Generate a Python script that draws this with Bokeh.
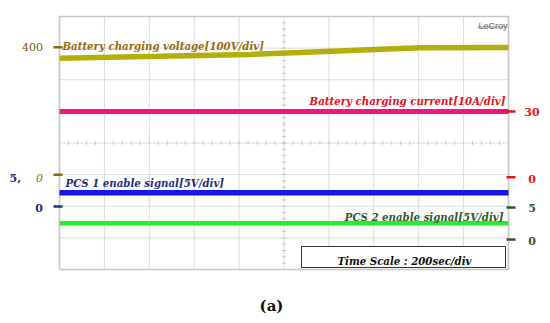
from bokeh.plotting import figure
from bokeh.models import Range1d
from bokeh.core.properties import value
from bokeh.embed import file_html
from bokeh.resources import INLINE

# ---------------- data ----------------
# time axis: 200 sec/div, 10 divisions
t_volt = [0, 450, 850, 1075, 1405, 1610, 2000]          # s
v_batt = [365, 371, 377, 383, 393, 398, 399]             # V  (100 V/div)
t_flat = [0, 2000]                                      # s
i_batt = [30, 30]                                       # A  (10 A/div)
pcs1_sig = [2.15, 2.15]                                 # V  (5 V/div)
pcs2_sig = [2.55, 2.55]                                 # V  (5 V/div)

# channel reference marks (screen divisions) and their labels
left_mark_div = [7.03, 3.00, 1.99]
left_mark_text = ["400", "0", "0"]
right_mark_div = [5.00, 2.92, 1.96, 0.95]
right_mark_text = ["30", "0", "5", "0"]

# ---------------- scope settings ----------------
SEC_PER_DIV = 200.0
V_PER_DIV, V_OFF = 100.0, 3.03
A_PER_DIV, A_OFF = 10.0, 2.0
S_PER_DIV, S1_OFF, S2_OFF = 5.0, 2.0, 0.95
NX, NY = 10, 8

# ---------------- geometry ----------------
W, H = 548, 321
PXX, PXY = 44.9, 31.625           # pixels per division
FRAME_L, FRAME_BOT = 59, 269      # frame left / bottom in canvas pixels
x0 = -FRAME_L / PXX
x1 = x0 + W / PXX
y0 = -(H - FRAME_BOT) / PXY
y1 = y0 + H / PXY

p = figure(width=W, height=H, x_range=Range1d(x0, x1), y_range=Range1d(y0, y1),
           x_axis_type=None, y_axis_type=None, toolbar_location=None,
           output_backend="svg", min_border=0)
p.outline_line_color = None
p.grid.visible = False
p.background_fill_color = "white"

# grid
gx = list(range(NX + 1))
gy = list(range(NY + 1))
p.segment(x0=gx, y0=[0] * len(gx), x1=gx, y1=[NY] * len(gx), line_color="#dcdcdc", line_width=1)
p.segment(x0=[0] * len(gy), y0=gy, x1=[NX] * len(gy), y1=gy, line_color="#dcdcdc", line_width=1)
p.line([0, NX], [6.5, 6.5], line_color="#d6d6d6", line_width=1, line_dash="1 5")
# centre cross minor ticks
mx = [i * 0.2 for i in range(NX * 5 + 1)]
my = [i * 0.2 for i in range(NY * 5 + 1)]
p.segment(x0=mx, y0=[NY / 2 - 0.06] * len(mx), x1=mx, y1=[NY / 2 + 0.06] * len(mx),
          line_color="#c4c4c4", line_width=1)
p.segment(x0=[NX / 2 - 0.045] * len(my), y0=my, x1=[NX / 2 + 0.045] * len(my), y1=my,
          line_color="#c4c4c4", line_width=1)
# frame
p.line([0, NX, NX, 0, 0], [0, 0, NY, NY, 0], line_color="#c6c6c6", line_width=1.6)

# traces
tx = lambda ts: [t / SEC_PER_DIV for t in ts]
p.line(tx(t_volt), [v / V_PER_DIV + V_OFF for v in v_batt], line_color="#B4AE0A", line_width=5.5)
p.line(tx(t_flat), [a / A_PER_DIV + A_OFF for a in i_batt], line_color="#F2157F", line_width=5)
p.line(tx(t_flat), [s / S_PER_DIV + S1_OFF for s in pcs1_sig], line_color="#1616E8", line_width=5.5)
p.line(tx(t_flat), [s / S_PER_DIV + S2_OFF for s in pcs2_sig], line_color="#2EE82E", line_width=4.5)

SERIF = value("DejaVu Serif")
BROWN, NAVY, RED, GREEN = "#8E6610", "#1C2F78", "#E3121B", "#2D5A2D"

def txt(x, y, s, color, size, style="bold italic", align="left", base="alphabetic", font=SERIF):
    p.text(x=[x], y=[y], text=[s], text_color=color, text_font_size=f"{size}px",
           text_font_style=style, text_align=align, text_baseline=base, text_font=font)

def px_x(xp):
    return (xp - FRAME_L) / PXX

def px_y(yp):
    return (FRAME_BOT - yp) / PXY

# channel labels
LBL = 10.2
txt(px_x(62), px_y(45), "Battery charging voltage[100V/div]", "#9A6B0C", LBL)
txt(px_x(505), px_y(100.5), "Battery charging current[10A/div]", RED, LBL, align="right")
txt(px_x(65), px_y(182), "PCS 1 enable signal[5V/div]", NAVY, LBL)
txt(px_x(503), px_y(216), "PCS 2 enable signal[5V/div]", GREEN, LBL, align="right")

# time scale box
p.quad(left=[px_x(301)], right=[px_x(505)], top=[px_y(246)], bottom=[px_y(267)],
       fill_color="white", line_color="#333333", line_width=1)
txt(px_x(404), px_y(260.5), "Time Scale : 200sec/div", "#111111", LBL, align="center")

# LeCroy logo
txt(px_x(507), px_y(25), "LeCroy", "#666666", 9, style="normal", align="right",
    font=value("Liberation Sans"))
p.line([px_x(477), px_x(507)], [px_y(26.5), px_y(26.5)], line_color="#777777", line_width=0.8)

# reference marks
lcol = [BROWN, BROWN, NAVY]
p.segment(x0=[px_x(53)] * 3, y0=left_mark_div, x1=[px_x(62)] * 3, y1=left_mark_div,
          line_color=lcol, line_width=2.5)
rcol = [RED, RED, GREEN, GREEN]
p.segment(x0=[px_x(506)] * 4, y0=right_mark_div, x1=[px_x(515)] * 4, y1=right_mark_div,
          line_color=rcol, line_width=2.5)

left_dy = [0.0, -0.12, -0.06]
left_style = ["normal", "italic", "bold"]
for d, s, c, dy, st in zip(left_mark_div, left_mark_text, lcol, left_dy, left_style):
    txt(px_x(42.5), d + dy, s, c if s != "400" else "#7B5A12", 11, style=st, align="right", base="middle")
txt(px_x(9), left_mark_div[1] - 0.12, "5,", NAVY, 11, style="bold", base="middle")

right_dy = [-0.03, -0.05, -0.03, -0.06]
for d, s, c, dy in zip(right_mark_div, right_mark_text, rcol, right_dy):
    txt(px_x(531.5), d + dy, s, c, 11, style="bold", align="center", base="middle")

# caption
txt(px_x(271), px_y(305), "(a)", "#111111", 15, style="bold", align="center", base="middle")

open("out.html", "w").write(file_html(p, INLINE))
